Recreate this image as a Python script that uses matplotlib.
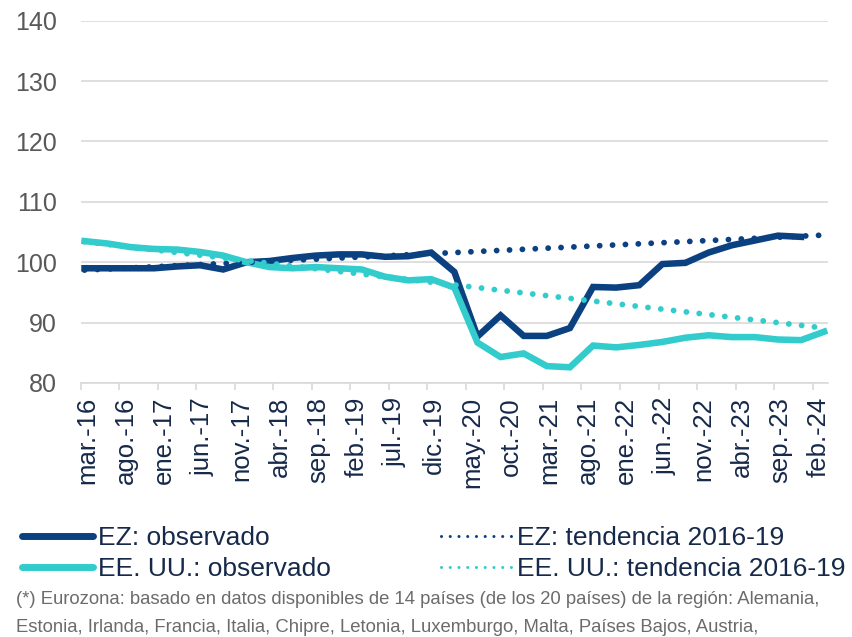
import matplotlib
matplotlib.use("Agg")
import matplotlib.pyplot as plt
from matplotlib.lines import Line2D
import numpy as np

plt.rcParams['font.family'] = ['Liberation Sans', 'DejaVu Sans']

# ---- data -------------------------------------------------------------
month_abbr = ["ene", "feb", "mar", "abr", "may", "jun",
              "jul", "ago", "sep", "oct", "nov", "dic"]
# monthly categories from mar-16 to mar-24 (97 months)
categories = [f"{month_abbr[(2 + k) % 12]}.-{16 + (2 + k) // 12}" for k in range(97)]
label_step = 5

# quarterly observations (mar, jun, sep, dic), category index = 3*q
quarter_idx = list(range(0, 97, 3))
ez_obs = [99.0, 99.0, 99.0, 99.0, 99.3, 99.5, 98.8, 100.0,
          100.2, 100.7, 101.1, 101.3, 101.3, 100.9, 101.0, 101.6,
          98.4, 87.7, 91.2, 87.8, 87.8, 89.1, 95.9, 95.8,
          96.2, 99.7, 99.9, 101.6, 102.8, 103.6, 104.4, 104.2, np.nan]
us_obs = [103.5, 103.1, 102.5, 102.2, 102.1, 101.7, 101.1, 100.0,
          99.2, 99.0, 99.2, 99.0, 98.8, 97.6, 97.0, 97.2,
          95.8, 86.7, 84.3, 84.9, 82.8, 82.6, 86.2, 85.9,
          86.3, 86.8, 87.5, 87.9, 87.6, 87.6, 87.2, 87.1, 88.5]

# 2016-19 linear trends (start and end values)
trend_idx = [0, 96]
ez_trend = [98.7, 104.5]
us_trend = [103.4, 89.1]

series_names = ["EZ: observado", "EE. UU.: observado",
                "EZ: tendencia 2016-19", "EE. UU.: tendencia 2016-19"]
footnote_lines = [
    "(*) Eurozona: basado en datos disponibles de 14 países (de los 20 países) de la región: Alemania,",
    "Estonia, Irlanda, Francia, Italia, Chipre, Letonia, Luxemburgo, Malta, Países Bajos, Austria,",
]

# ---- style ------------------------------------------------------------
NAVY = "#0B4180"
CYAN = "#33CCCC"
TEXT_NAVY = "#16294A"
GRAY_TXT = "#595959"
GRID = "#D9D9D9"

W, H = 852, 637
fig = plt.figure(figsize=(W / 100, H / 100), dpi=100)
x0, x1, ytop, ybot = 80.7, 828.0, 20.7, 383.0
ax = fig.add_axes([x0 / W, 1 - ybot / H, (x1 - x0) / W, (ybot - ytop) / H])

dot = (0, (0.01, 2.2))
ax.plot(quarter_idx, ez_obs, color=NAVY, lw=4.7, solid_joinstyle='miter', zorder=3)
ax.plot(quarter_idx, us_obs, color=CYAN, lw=4.7, solid_joinstyle='miter', zorder=3)
ax.plot(trend_idx, ez_trend, color=NAVY, lw=4.2, linestyle=dot,
        dash_capstyle='round', zorder=4)
ax.plot(trend_idx, us_trend, color=CYAN, lw=4.2, linestyle=dot,
        dash_capstyle='round', zorder=4)

ax.set_xlim(-0.5, len(categories) - 0.5)
ax.set_ylim(80, 140)
ax.set_yticks(np.arange(80, 141, 10))
ax.yaxis.grid(True, color=GRID, lw=1.2)
ax.set_axisbelow(True)
for s in ["left", "right", "top"]:
    ax.spines[s].set_visible(False)
ax.spines["bottom"].set_color(GRID)
ax.spines["bottom"].set_linewidth(1.2)
ax.tick_params(axis='y', length=0, pad=17, labelsize=18, labelcolor=GRAY_TXT)

# tick marks at category boundaries, labels at category centres
lab_pos = list(range(0, len(categories), label_step))
ax.set_xticks([p - 0.5 for p in lab_pos])
ax.set_xticklabels([])
ax.tick_params(axis='x', which='major', length=5, width=1.2, color=GRID)
ax.set_xticks([p + 0.3 for p in lab_pos], minor=True)
ax.set_xticklabels([categories[p] for p in lab_pos], minor=True,
                   rotation=90, fontsize=18.5, color=TEXT_NAVY)
ax.tick_params(axis='x', which='minor', length=0, pad=10)

# legend
handles = [
    Line2D([], [], color=NAVY, lw=5, solid_capstyle='round'),
    Line2D([], [], color=CYAN, lw=5, solid_capstyle='round'),
    Line2D([], [], color=NAVY, lw=2.2, linestyle=(0, (0.01, 2.85)), dash_capstyle='round'),
    Line2D([], [], color=CYAN, lw=2.2, linestyle=(0, (0.01, 2.85)), dash_capstyle='round'),
]
fig.legend(handles, series_names, loc='upper left', ncol=2,
           bbox_to_anchor=(22 / W, 1 - 526 / H), frameon=False,
           fontsize=19, labelcolor=TEXT_NAVY, borderpad=0, borderaxespad=0,
           handlelength=2.69, handletextpad=0.2, columnspacing=4.15,
           labelspacing=0.27)

for yc, line in zip([600, 627], footnote_lines):
    fig.text(16 / W, 1 - yc / H, line, fontsize=13.3, color="#6B6B6B",
             va='center', ha='left')

fig.savefig("out.png", dpi=100)
